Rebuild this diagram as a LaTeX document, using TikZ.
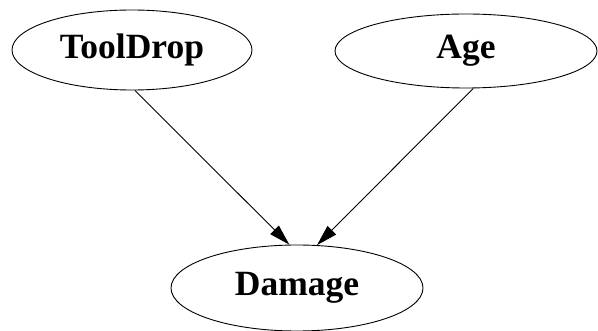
\documentclass[tikz,border=0pt]{standalone}
\usepackage{fontspec}
\setmainfont{Liberation Serif}
\usetikzlibrary{shapes.geometric,arrows.meta}

\begin{document}
\begin{tikzpicture}[x=1pt,y=-1pt]
		\tikzstyle{every path}=[line width=0.9pt]
		
		\tikzstyle{bnnode}=[draw,ellipse,inner sep=0pt,
		font=\bfseries\fontsize{35.5}{40}\selectfont]
		\tikzstyle{bnedge}=[-{Triangle[length=21pt,width=12pt]}]
		
		\useasboundingbox (0,0) rectangle (598,331);
		
		%% Parents
		\node [bnnode,minimum width=240pt,minimum height=80pt] (tooldrop) at (132,50) {ToolDrop};
		\node [bnnode,minimum width=262pt,minimum height=74pt] (age) at (466,51) {Age};
		
		%% Child
		\node [bnnode,minimum width=252pt,minimum height=86pt] (damage) at (297,288) {Damage};
		
		%% Edges
		\draw [bnedge] (tooldrop.274) -- (damage.100);
		\draw [bnedge] (age.281) -- (damage.65);
		
\end{tikzpicture}
\end{document}
